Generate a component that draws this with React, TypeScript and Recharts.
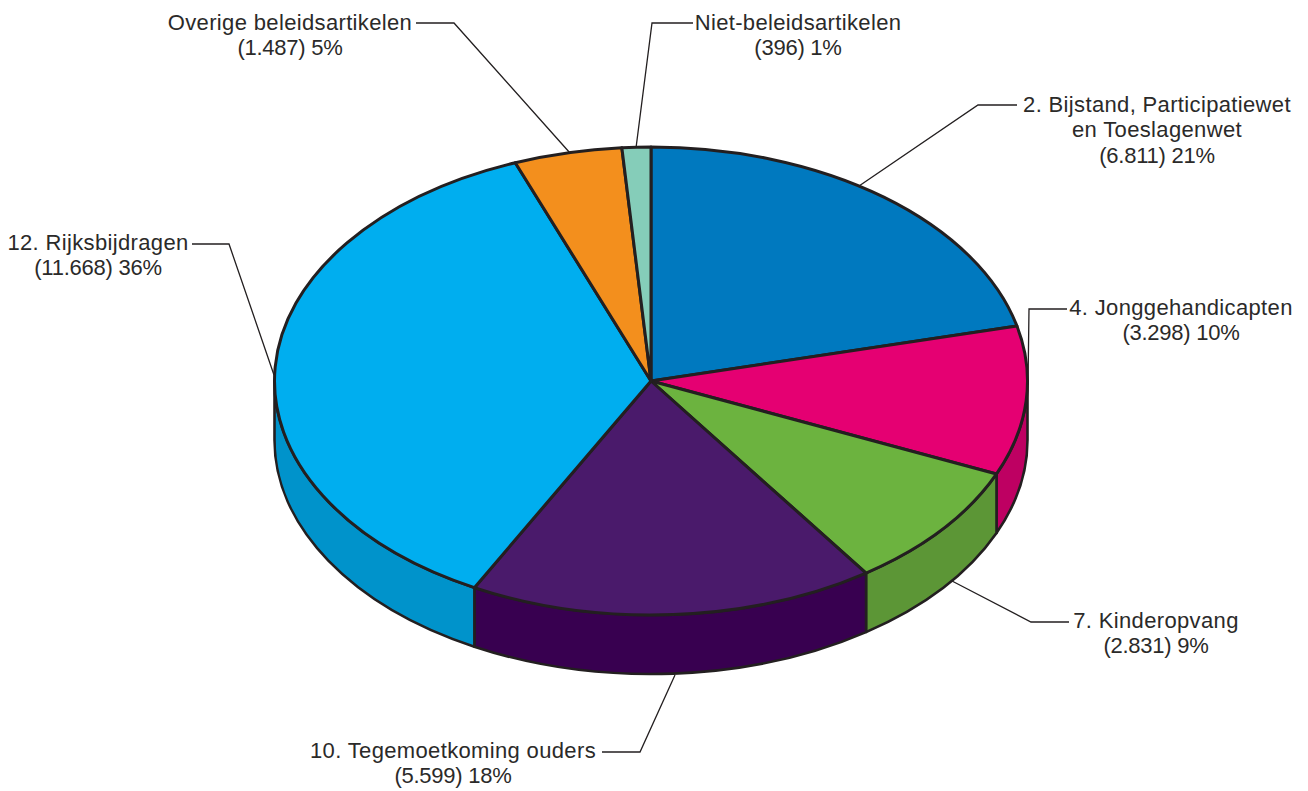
import { Pie, PieChart } from "recharts"

const categories = [
  ["2. Bijstand, Participatiewet", "en Toeslagenwet"],
  ["4. Jonggehandicapten"],
  ["7. Kinderopvang"],
  ["10. Tegemoetkoming ouders"],
  ["12. Rijksbijdragen"],
  ["Overige beleidsartikelen"],
  ["Niet-beleidsartikelen"],
]
const values = [6811, 3298, 2831, 5599, 11668, 1487, 396]
const percents = [21, 10, 9, 18, 36, 5, 1]

const topColors = ["#0079bf", "#e50072", "#6cb33f", "#4a1a6b", "#00aeef", "#f38f1d", "#85cdb9"]
const sideColors = ["#00659f", "#be0062", "#5c9636", "#380050", "#0093cb", "#cc7718", "#6fac9b"]

// label anchor (centre x, first baseline) and leader line, in chart pixels
const labelCentres = [
  [1157, 112],
  [1181, 315],
  [1156, 628],
  [453, 758],
  [98, 250],
  [290, 30],
  [798, 30],
]
const leaders = [
  [[1017, 105], [978, 105], [859, 186]],
  [[1067, 309], [1029, 309], [1028, 385]],
  [[1069, 622], [1031, 622], [952, 581]],
  [[602, 752], [640, 752], [675, 675]],
  [[192, 244], [229, 244], [274, 375]],
  [[416, 23], [454, 23], [570, 153]],
  [[693, 23], [652, 23], [636, 148]],
]

const WIDTH = 1308
const HEIGHT = 791
const CX = 651
const CY = 381
const RX = 376.5
const RY = 234
const DEPTH = 59
const LINE = "#231f20"
const TEXT = "#2b2a29"
const LINE_HEIGHT = 25.3

const data = values.map((value, i) => ({ name: categories[i].join(" "), value }))

function pointAt(angle: number, rx: number, ry: number, cx: number, cy: number) {
  const rad = (angle * Math.PI) / 180
  return [cx + rx * Math.cos(rad), cy - ry * Math.sin(rad)]
}

// the library hands over the sector angles, we only flatten the circle to an ellipse
function TopSector(props: any) {
  const { cx, cy, outerRadius, startAngle, endAngle, index } = props
  const ry = (outerRadius * RY) / RX
  const [x1, y1] = pointAt(startAngle, outerRadius, ry, cx, cy)
  const [x2, y2] = pointAt(endAngle, outerRadius, ry, cx, cy)
  const large = Math.abs(startAngle - endAngle) > 180 ? 1 : 0
  const d = `M${cx},${cy}L${x1},${y1}A${outerRadius},${ry} 0 ${large} 1 ${x2},${y2}Z`
  return <path d={d} fill={topColors[index]} stroke={LINE} strokeWidth={3} strokeLinejoin="round" />
}

function SideSector(props: any) {
  const { cx, cy, outerRadius, startAngle, endAngle, index } = props
  const ry = (outerRadius * RY) / RX
  const from = Math.min(startAngle, 0)
  const to = Math.max(endAngle, -180)
  if (from <= to) return <g />
  const [x1, y1] = pointAt(from, outerRadius, ry, cx, cy)
  const [x2, y2] = pointAt(to, outerRadius, ry, cx, cy)
  const d =
    `M${x1},${y1}A${outerRadius},${ry} 0 0 1 ${x2},${y2}` +
    `L${x2},${y2 + DEPTH}A${outerRadius},${ry} 0 0 0 ${x1},${y1 + DEPTH}Z`
  return <path d={d} fill={sideColors[index]} stroke={LINE} strokeWidth={2.6} strokeLinejoin="round" />
}

function SliceLabel({ index }: any) {
  const [x, y] = labelCentres[index]
  const names = categories[index]
  const amount = `(${values[index].toLocaleString("nl-NL")}) ${percents[index]}%`
  return (
    <g>
      <polyline
        points={leaders[index].map((p) => p.join(",")).join(" ")}
        fill="none"
        stroke={LINE}
        strokeWidth={1.3}
      />
      <text
        x={x}
        y={y}
        textAnchor="middle"
        fill={TEXT}
        fontFamily="'Liberation Sans', sans-serif"
        fontSize={22}
        letterSpacing={0.35}
      >
        {names.map((line, i) => (
          <tspan key={line} x={x} y={y + i * LINE_HEIGHT}>
            {line}
          </tspan>
        ))}
        <tspan x={x} y={y + names.length * LINE_HEIGHT} letterSpacing={-0.25}>
          {amount}
        </tspan>
      </text>
    </g>
  )
}

export default function App() {
  return (
    <div style={{ position: "absolute", left: 0, top: 0, width: WIDTH, height: HEIGHT, background: "#fff" }}>
      <PieChart width={WIDTH} height={HEIGHT} margin={{ top: 0, right: 0, bottom: 0, left: 0 }}>
        <Pie
          data={data}
          dataKey="value"
          cx={CX}
          cy={CY}
          outerRadius={RX}
          startAngle={90}
          endAngle={-270}
          shape={SideSector}
          isAnimationActive={false}
        />
        <Pie
          data={data}
          dataKey="value"
          cx={CX}
          cy={CY}
          outerRadius={RX}
          startAngle={90}
          endAngle={-270}
          shape={TopSector}
          label={SliceLabel}
          labelLine={false}
          isAnimationActive={false}
        />
      </PieChart>
    </div>
  )
}
